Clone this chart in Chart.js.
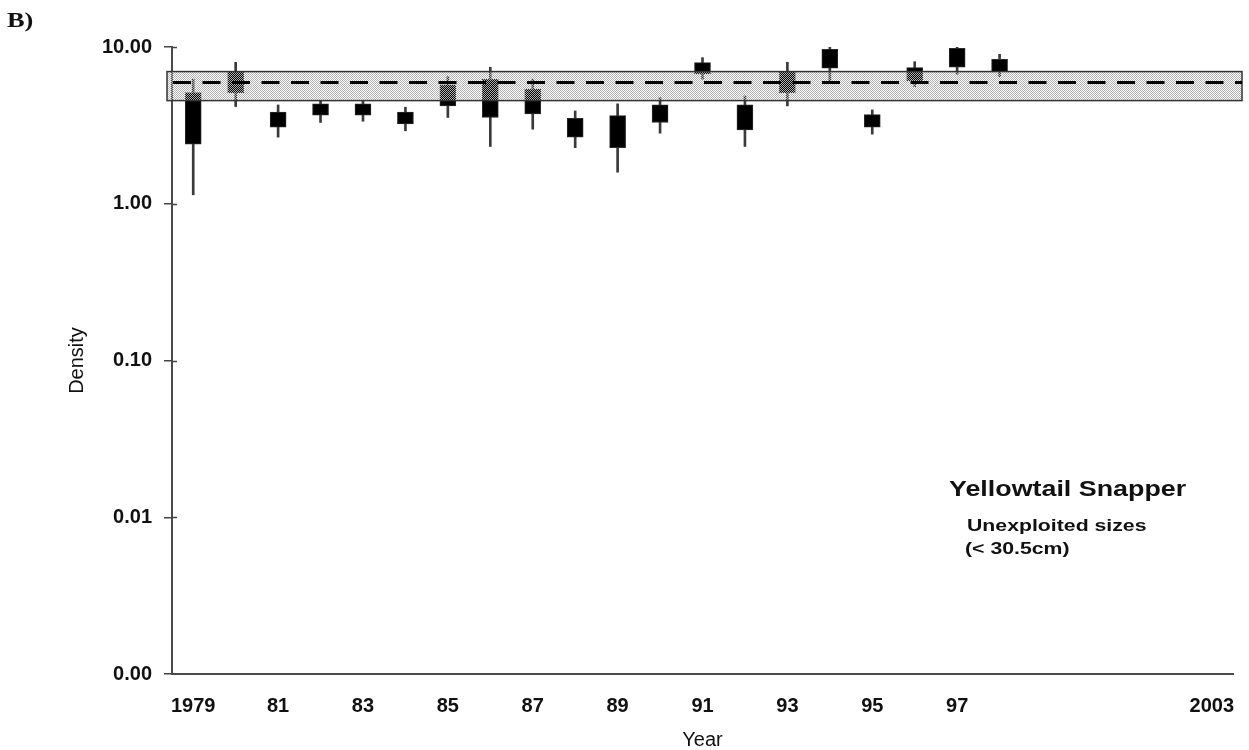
<!DOCTYPE html>
<html>
<head>
<meta charset="utf-8">
<title>Yellowtail Snapper - densidade</title>
<script src="https://cdn.jsdelivr.net/npm/chart.js@4.4.1/dist/chart.umd.min.js"></script>
<style>
    html, body { margin: 0; padding: 0; background: #fff; }
    #wrap { width: 1249px; height: 750px; }
</style>
</head>
<body>
<div id="wrap"><canvas id="grafico" width="1249" height="750"></canvas></div>
<script>
// --- Dados anuais (densidade, escala log) ---
const years       = [1979, 1980, 1981, 1982, 1983, 1984, 1985, 1986, 1987, 1988, 1989, 1990, 1991, 1992, 1993, 1994, 1995, 1996, 1997, 1998];
const whiskerLow  = [1.14, 4.17, 2.66, 3.30, 3.36, 2.92, 3.55, 2.32, 2.99, 2.28, 1.59, 2.82, 6.23, 2.32, 4.21, 6.10, 2.78, 5.59, 6.70, 6.47];
const boxLow      = [2.40, 5.12, 3.08, 3.67, 3.67, 3.23, 4.21, 3.55, 3.74, 2.66, 2.28, 3.30, 6.73, 2.96, 5.12, 7.32, 3.08, 6.10, 7.43, 6.97];
const boxHigh     = [5.12, 7.00, 3.84, 4.34, 4.34, 3.84, 5.73, 6.23, 5.38, 3.51, 3.65, 4.27, 7.94, 4.27, 7.00, 9.67, 3.70, 7.38, 9.81, 8.35];
const whiskerHigh = [6.23, 7.99, 4.27, 4.55, 4.55, 4.13, 6.47, 7.43, 6.23, 3.91, 4.34, 4.75, 8.55, 4.87, 7.99, 10.0, 3.97, 8.06, 10.0, 8.98];

// Nível de referência (média e faixa)
const refMean = 5.93;
const refLow  = 4.55;
const refHigh = 6.97;

// Rótulos dos eixos
const xTickYears  = [1979, 1981, 1983, 1985, 1987, 1989, 1991, 1993, 1995, 1997, 2003];
const xTickLabels = ['1979', '81', '83', '85', '87', '89', '91', '93', '95', '97', '2003'];
const yTickValues = [10, 1, 0.1, 0.01, 0.001];
const yTickLabels = ['10.00', '1.00', '0.10', '0.01', '0.00'];

const SANS = '"Liberation Sans", Arial, sans-serif';
const canvas = document.getElementById('grafico');

// Textura pontilhada 2x2 para a faixa de referência
function makeDither() {
    const c = document.createElement('canvas');
    c.width = 2;
    c.height = 2;
    const g = c.getContext('2d');
    g.fillStyle = '#b2b2b2';
    g.fillRect(0, 0, 1, 1);
    g.fillRect(1, 1, 1, 1);
    return c;
}

// Faixa de referência + linha tracejada da média, por cima das caixas
const refBandPlugin = {
    id: 'refBand',
    afterDatasetsDraw(chart) {
        const { ctx, chartArea, scales: { y } } = chart;
        const top = y.getPixelForValue(refHigh);
        const bottom = y.getPixelForValue(refLow);
        const mid = y.getPixelForValue(refMean);
        const left = chartArea.left - 5;
        const right = chartArea.right + 9;

        ctx.save();
        ctx.fillStyle = ctx.createPattern(makeDither(), 'repeat');
        ctx.fillRect(left, top, right - left, bottom - top);
        ctx.strokeStyle = '#333';
        ctx.lineWidth = 1.5;
        ctx.strokeRect(left, top, right - left, bottom - top);

        ctx.setLineDash([18, 11.5]);
        ctx.lineWidth = 3;
        ctx.strokeStyle = '#000';
        ctx.beginPath();
        ctx.moveTo(chartArea.left + 1, mid);
        ctx.lineTo(right, mid);
        ctx.stroke();
        ctx.restore();
    }
};

// Pequenos traços dos ticks para dentro do eixo Y
const innerTicksPlugin = {
    id: 'innerTicks',
    afterDraw(chart) {
        const { ctx, chartArea, scales: { y } } = chart;
        ctx.save();
        ctx.strokeStyle = '#444';
        ctx.lineWidth = 1.5;
        yTickValues.slice(0, -1).forEach(v => {
            const py = Math.round(y.getPixelForValue(v)) + 0.5;
            ctx.beginPath();
            ctx.moveTo(chartArea.left, py);
            ctx.lineTo(chartArea.left + 5, py);
            ctx.stroke();
        });
        ctx.restore();
    }
};

function drawWide(ctx, text, x, y, font, sx) {
    ctx.save();
    ctx.translate(x, y);
    ctx.scale(sx, 1);
    ctx.font = font;
    ctx.fillText(text, 0, 0);
    ctx.restore();
}

// Letra do painel e legenda da espécie
const labelsPlugin = {
    id: 'panelLabels',
    afterDraw(chart) {
        const ctx = chart.ctx;
        ctx.save();
        ctx.fillStyle = '#111';
        ctx.textBaseline = 'alphabetic';
        drawWide(ctx, 'B)', 7, 27, 'bold 22px "Liberation Serif", serif', 1.2);
        drawWide(ctx, 'Yellowtail Snapper', 949, 496, 'bold 22px ' + SANS, 1.22);
        drawWide(ctx, 'Unexploited sizes', 967, 531, 'bold 17px ' + SANS, 1.25);
        drawWide(ctx, '(< 30.5cm)', 965, 554, 'bold 17px ' + SANS, 1.25);
        ctx.restore();
    }
};

const boxData = years.map((yr, i) => ({ x: yr, y: [boxLow[i], boxHigh[i]] }));
const whiskerData = years.map((yr, i) => ({ x: yr, y: [whiskerLow[i], whiskerHigh[i]] }));

new Chart(canvas.getContext('2d'), {
    type: 'bar',
    data: {
        datasets: [
            {
                label: 'Caixa',
                data: boxData,
                backgroundColor: '#000',
                borderColor: '#2a2a2a',
                borderWidth: 1,
                borderSkipped: false,
                barThickness: 16,
                grouped: false,
                order: 1
            },
            {
                label: 'Amplitude',
                data: whiskerData,
                backgroundColor: '#3a3a3a',
                borderWidth: 0,
                barThickness: 2,
                grouped: false,
                order: 2
            }
        ]
    },
    options: {
        responsive: false,
        animation: false,
        layout: { padding: { top: 47, right: 16, bottom: 0, left: 0 } },
        plugins: {
            legend: { display: false },
            tooltip: { enabled: false }
        },
        scales: {
            x: {
                type: 'linear',
                offset: false,
                min: 1978.5,
                max: 2003.5,
                afterBuildTicks: scale => { scale.ticks = xTickYears.map(v => ({ value: v })); },
                afterFit: scale => {
                    scale.height = 76;
                    scale.paddingLeft = 0;
                    scale.paddingRight = 0;
                },
                ticks: {
                    callback: (value, index) => xTickLabels[index],
                    autoSkip: false,
                    maxRotation: 0,
                    padding: 20,
                    color: '#111',
                    font: { family: SANS, size: 20, weight: 'bold' }
                },
                grid: { display: false, drawTicks: false },
                border: { display: true, color: '#4a4a4a', width: 2 },
                title: {
                    display: true,
                    text: 'Year',
                    color: '#111',
                    padding: { top: 0, bottom: 0 },
                    font: { family: SANS, size: 20, lineHeight: 1 }
                }
            },
            y: {
                type: 'logarithmic',
                min: 0.001,
                max: 10,
                afterBuildTicks: scale => { scale.ticks = yTickValues.map(v => ({ value: v })); },
                afterFit: scale => { scale.width = 172; },
                ticks: {
                    callback: (value, index) => yTickLabels[index],
                    padding: 12,
                    color: '#111',
                    font: { family: SANS, size: 20, weight: 'bold' }
                },
                grid: { drawOnChartArea: false, drawTicks: true, tickLength: 8, color: '#444', lineWidth: 1.5 },
                border: { display: true, color: '#4a4a4a', width: 2 },
                title: {
                    display: true,
                    text: 'Density',
                    color: '#111',
                    padding: { top: 67, bottom: 0 },
                    font: { family: SANS, size: 20, lineHeight: 1 }
                }
            }
        }
    },
    plugins: [refBandPlugin, innerTicksPlugin, labelsPlugin]
});
</script>
</body>
</html>
